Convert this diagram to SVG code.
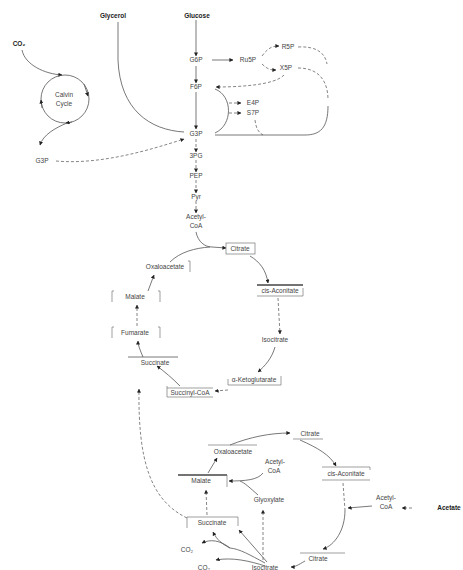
<svg xmlns="http://www.w3.org/2000/svg" width="463" height="570" viewBox="0 0 463 570">
<style>
text{font-family:"Liberation Sans",Arial,sans-serif;font-size:6.5px;fill:#444;text-anchor:middle}
.b{font-weight:bold;font-size:6.5px;fill:#222}
.c{fill:none;stroke:#555;stroke-width:0.8}
.d{fill:none;stroke:#666;stroke-width:0.8;stroke-dasharray:3,2}
.a{marker-end:url(#ah)}
.bx{fill:none;stroke:#777;stroke-width:0.7}
.tk{fill:none;stroke:#444;stroke-width:1.4}
</style>
<defs>
<marker id="ah" viewBox="0 0 10 10" refX="9" refY="5" markerWidth="5" markerHeight="5" orient="auto"><path d="M0,0 L10,5 L0,10 z" fill="#222"/></marker>
</defs>
<rect width="463" height="570" fill="#fff"/>
<g id="connectors">
<path class="c a" d="M22,50 C25,65 45,74 62,75"/>
<circle class="c" cx="65" cy="99" r="24"/>
<path class="c a" d="M84,84 L88,96"/>
<path class="c a" d="M72,122 L66,123"/>
<path class="c a" d="M42,108 L41,100"/>
<path class="c a" d="M67,123 C55,128 43,135 40,145"/>
<path class="d a" d="M56,161 C100,165 150,150 184,139"/>
<path class="c" d="M118,22 L118,60 C120,110 150,130 184,132"/>
<path class="c a" d="M196,20 L196,56"/>
<path class="c a" d="M196,66 L196,83"/>
<path class="c a" d="M196,92 L196,129"/>
<path class="c a" d="M212,60 L233,60"/>
<path class="d a" d="M262,56 C268,48 272,46 279,46"/>
<path class="d a" d="M262,64 C268,70 272,70 276,70"/>
<path class="d" d="M298,47 C315,46 325,52 327,64"/>
<path class="d" d="M298,68 C318,68 328,80 328,100"/>
<path class="d a" d="M284,75 C275,85 240,87 216,87"/>
<path class="c" d="M215,89 C233,96 233,125 215,133"/>
<path class="d a" d="M229,103 L241,103"/>
<path class="d a" d="M229,113 L241,113"/>
<path class="d" d="M255,120 C256,128 258,132 263,135"/>
<path class="c" d="M215,135 L305,135 C320,135 328,128 328,106"/>
<path class="d a" d="M196,139 L196,152"/>
<path class="d a" d="M196,160 L196,172"/>
<path class="d a" d="M196,180 L196,193"/>
<path class="d a" d="M196,201 L196,213"/>
<path class="c a" d="M196,232 C198,242 205,247 212,247 L226,248"/>
<path class="c" d="M170,262 C180,252 195,248 210,247"/>
<path class="c a" d="M250,256 C260,262 266,270 268,283"/>
<path class="d a" d="M278,298 L280,334"/>
<path class="c a" d="M275,347 C272,358 265,366 258,372"/>
<path class="d a" d="M228,390 L215,391"/>
<path class="c a" d="M180,386 C172,378 165,372 157,366"/>
<path class="c a" d="M143,357 C140,350 138,345 138,341"/>
<path class="d a" d="M137,326 L137,305"/>
<path class="c a" d="M148,291 L154,275"/>
<path class="d a" d="M187,518 C150,500 138,460 139,389"/>
<path class="c a" d="M230,445 C250,437 270,433 290,433"/>
<path class="c a" d="M300,440 C318,448 330,455 336,466"/>
<path class="d" d="M343,483 L345,510"/>
<path class="c a" d="M345,510 C345,530 335,545 323,549"/>
<path class="c a" d="M372,506 L348,508"/>
<path class="d a" d="M412,508 L402,508"/>
<path class="c a" d="M305,561 C298,565 295,567 291,567"/>
<path class="c a" d="M267,562 L239,530"/>
<path class="d a" d="M263,560 L263,510"/>
<path class="c" d="M265,563 C250,555 240,549 230,548"/>
<path class="c a" d="M230,548 C222,544 217,540 213,532"/>
<path class="c a" d="M230,548 C220,540 210,539 202,543"/>
<path class="c a" d="M265,566 C250,561 232,557 216,560"/>
<path class="c a" d="M263,473 C258,480 245,481 229,481"/>
<path class="c" d="M258,495 C250,488 245,483 240,481"/>
<path class="d a" d="M207,515 L206,490"/>
<path class="c a" d="M208,473 L217,458"/>
</g>
<g id="n-co2"><text class="b" x="19" y="46">CO₂</text></g>
<g id="n-calvin"><text x="64" y="97">Calvin</text><text x="64" y="106">Cycle</text></g>
<g id="n-g3p-c"><text x="42" y="163">G3P</text></g>
<g id="n-glycerol"><text class="b" x="113" y="18">Glycerol</text></g>
<g id="n-glucose"><text class="b" x="197" y="18">Glucose</text></g>
<g id="n-g6p"><text x="196" y="62">G6P</text></g>
<g id="n-ru5p"><text x="248" y="62">Ru5P</text></g>
<g id="n-r5p"><text x="288" y="49">R5P</text></g>
<g id="n-x5p"><text x="286" y="70">X5P</text></g>
<g id="n-f6p"><text x="196" y="89">F6P</text></g>
<g id="n-e4p"><text x="253" y="105">E4P</text></g>
<g id="n-s7p"><text x="253" y="115">S7P</text></g>
<g id="n-g3p"><text x="196" y="136">G3P</text></g>
<g id="n-3pg"><text x="196" y="158">3PG</text></g>
<g id="n-pep"><text x="196" y="178">PEP</text></g>
<g id="n-pyr"><text x="196" y="199">Pyr</text></g>
<g id="n-acoa"><text x="196" y="219">Acetyl-</text><text x="196" y="228">CoA</text></g>
<g id="n-citrate"><rect class="bx" x="226" y="243" width="29" height="11"/><text x="240" y="251">Citrate</text></g>
<g id="n-cisacon"><path class="tk" d="M257,285 L303,285"/><path class="bx" d="M257,296 L303,296 L303,288"/><text x="280" y="293">cis-Aconitate</text></g>
<g id="n-isocit"><text x="275" y="342">Isocitrate</text></g>
<g id="n-akg"><path class="bx" d="M228,385 L281,385 L281,376 M228,385 L228,379"/><text x="254" y="382">α-Ketoglutarate</text></g>
<g id="n-succoa"><path class="bx" d="M167,386 L167,397 L213,397 M167,388 L213,388"/><text x="190" y="395">Succinyl-CoA</text></g>
<g id="n-succ"><path class="c" d="M128,357 L178,357"/><text x="155" y="365">Succinate</text></g>
<g id="n-fum"><path class="bx" d="M114,327 L112,327 L112,338 M158,327 L160,327 L160,338"/><text x="135" y="335">Fumarate</text></g>
<g id="n-mal"><path class="bx" d="M114,291 L112,291 L112,302 M158,291 L160,291 L160,302"/><text x="135" y="299">Malate</text></g>
<g id="n-oaa"><path class="bx" d="M188,261 L190,261 L190,272"/><text x="165" y="269">Oxaloacetate</text></g>
<g id="n-citrate2"><path class="bx" d="M293,439 L323,439"/><text x="310" y="436">Citrate</text></g>
<g id="n-cisacon2"><path class="bx" d="M322,467 L370,467 M322,480 L370,480 M370,467 L370,470"/><text x="346" y="476">cis-Aconitate</text></g>
<g id="n-acoa2"><text x="386" y="500">Acetyl-</text><text x="386" y="509">CoA</text></g>
<g id="n-acetate"><text class="b" x="449" y="510">Acetate</text></g>
<g id="n-citrate3"><path class="bx" d="M300,553 L345,553"/><text x="318" y="561">Citrate</text></g>
<g id="n-oaa2"><path class="bx" d="M208,445 L257,445"/><text x="233" y="454">Oxaloacetate</text></g>
<g id="n-acoa3"><text x="275" y="464">Acetyl-</text><text x="274" y="473">CoA</text></g>
<g id="n-mal2"><path class="tk" d="M178,475 L227,475"/><path class="bx" d="M227,475 L227,487"/><text x="201" y="483">Malate</text></g>
<g id="n-glyox"><text x="269" y="502">Glyoxylate</text></g>
<g id="n-succ2"><path class="bx" d="M187,517 L238,517 L238,526 M187,517 L187,528"/><text x="212" y="525">Succinate</text></g>
<g id="n-co2b"><text x="187" y="552">CO₂</text></g>
<g id="n-co2c"><text x="204" y="570">CO₂</text></g>
<g id="n-isocit2"><text x="265" y="570">Isocitrate</text></g>
</svg>
